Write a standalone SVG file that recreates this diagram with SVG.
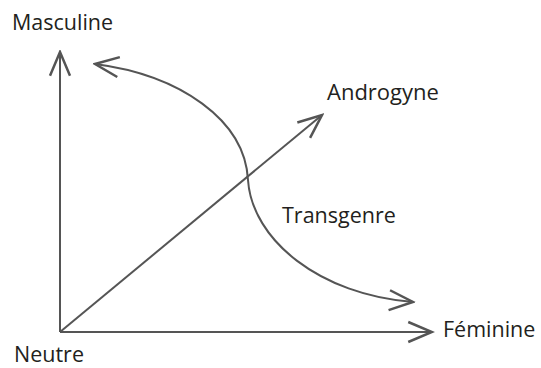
<svg xmlns="http://www.w3.org/2000/svg" width="541" height="368" viewBox="0 0 541 368">
<style>
.t{font-family:"Open Sans","Liberation Sans",sans-serif;font-size:21.5px;fill:#231f20}
.c{fill:none;stroke:#555;stroke-width:2}
</style>
<defs>
<marker id="a" markerUnits="userSpaceOnUse" markerWidth="30" markerHeight="30" refX="0" refY="0" viewBox="-22 -11 24 22" orient="auto-start-reverse">
<path d="M-19,-8 L0,0 L-19,8" fill="none" stroke="#555" stroke-width="2"/>
</marker>
</defs>
<rect width="541" height="368" fill="#fff"/>
<g id="connectors">
<path class="c" d="M60,332 L60,52" marker-end="url(#a)"/>
<path class="c" d="M60,332 L432,332" marker-end="url(#a)"/>
<path class="c" d="M60,332 L322,115" marker-end="url(#a)"/>
<path class="c" d="M95,64 C180,75 245,120 248,180 C252,240 320,295 413,302" marker-start="url(#a)" marker-end="url(#a)"/>
</g>
<g id="masculine"><text class="t" x="12" y="30">Masculine</text></g>
<g id="androgyne"><text class="t" x="327" y="100" style="font-size:22px">Androgyne</text></g>
<g id="transgenre"><text class="t" x="282" y="223">Transgenre</text></g>
<g id="feminine"><text class="t" x="443" y="337">Féminine</text></g>
<g id="neutre"><text class="t" x="14" y="362">Neutre</text></g>
</svg>
